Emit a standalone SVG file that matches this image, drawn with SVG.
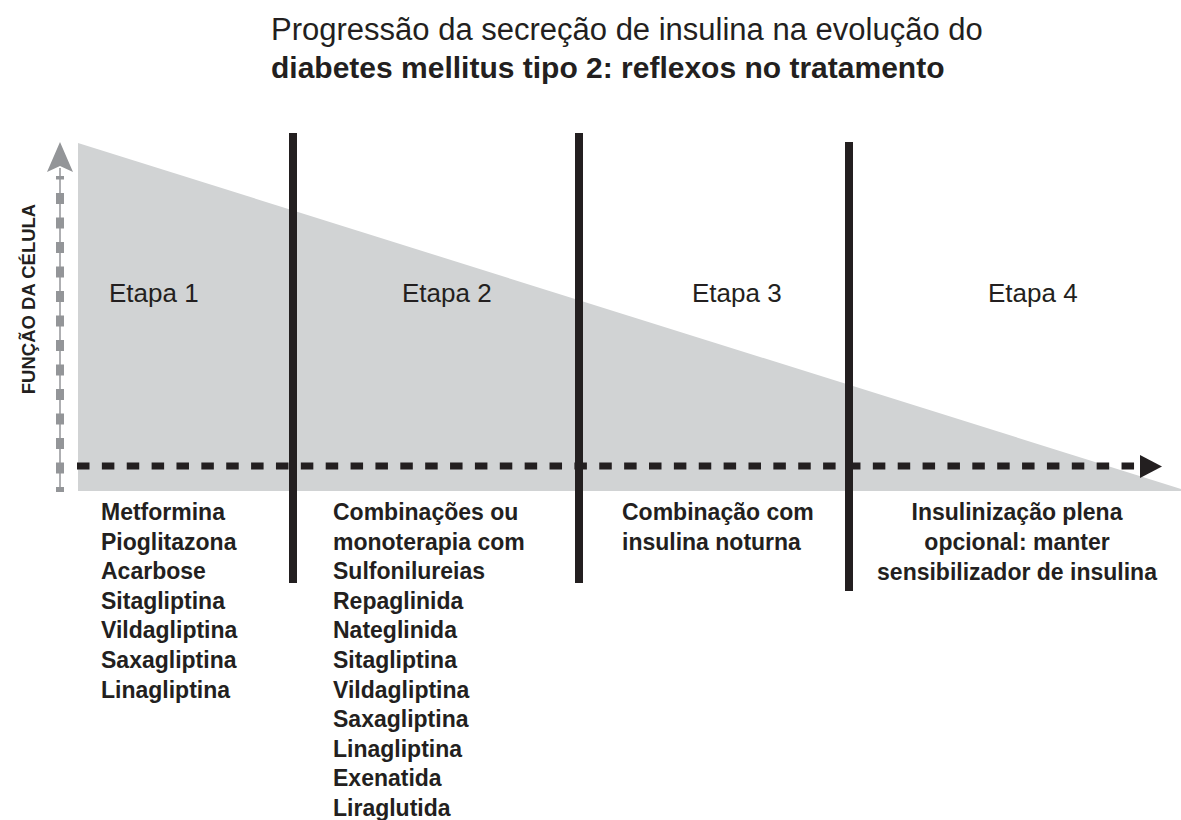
<svg xmlns="http://www.w3.org/2000/svg" width="1181" height="820" viewBox="0 0 1181 820">
<style>
text{font-family:"Liberation Sans",Arial,sans-serif;fill:#231f20}
.title{font-size:31px}
.title2{font-size:30px;font-weight:bold}
.etapa{font-size:26px}
.body{font-size:23px;font-weight:bold}
.ylab{font-size:18.5px;font-weight:bold}
.sep{stroke:#231f20;stroke-width:8;fill:none}
</style>
<rect width="1181" height="820" fill="#ffffff"/>
<g id="title">
<text class="title" x="271" y="40">Progressão da secreção de insulina na evolução do</text>
<text class="title2" x="271" y="78">diabetes mellitus tipo 2: reflexos no tratamento</text>
</g>
<g id="area">
<polygon points="78,143 1181,489 1181,491 78,491" fill="#d1d3d4"/>
</g>
<g id="connectors">
<line x1="60" y1="492" x2="60" y2="168" stroke="#939598" stroke-width="1.5"/>
<path d="M60 492 V176" stroke="#939598" stroke-width="8" stroke-dasharray="11 13.5" stroke-dashoffset="6" fill="none"/>
<polygon points="60,142 73,172 60,166 47,172" fill="#939598"/>
<path d="M77 466 H1136" stroke="#231f20" stroke-width="7" stroke-dasharray="12.5 12.37" fill="none"/>
<polygon points="1140,455 1162,466.5 1140,478" fill="#231f20"/>
<line class="sep" x1="293" y1="133" x2="293" y2="583"/>
<line class="sep" x1="579" y1="133" x2="579" y2="583"/>
<line class="sep" x1="849" y1="142" x2="849" y2="591"/>
</g>
<g id="axis-label">
<text class="ylab" transform="translate(35,299) rotate(-90)" text-anchor="middle">FUNÇÃO DA CÉLULA</text>
</g>
<g id="etapa1">
<text class="etapa" x="109" y="302">Etapa 1</text>
<text class="body" x="101" y="520">Metformina</text>
<text class="body" x="101" y="549.6">Pioglitazona</text>
<text class="body" x="101" y="579.2">Acarbose</text>
<text class="body" x="101" y="608.8">Sitagliptina</text>
<text class="body" x="101" y="638.4">Vildagliptina</text>
<text class="body" x="101" y="668">Saxagliptina</text>
<text class="body" x="101" y="697.6">Linagliptina</text>
</g>
<g id="etapa2">
<text class="etapa" x="402" y="302">Etapa 2</text>
<text class="body" x="333" y="520">Combinações ou</text>
<text class="body" x="333" y="549.6">monoterapia com</text>
<text class="body" x="333" y="579.2">Sulfonilureias</text>
<text class="body" x="333" y="608.8">Repaglinida</text>
<text class="body" x="333" y="638.4">Nateglinida</text>
<text class="body" x="333" y="668">Sitagliptina</text>
<text class="body" x="333" y="697.6">Vildagliptina</text>
<text class="body" x="333" y="727.2">Saxagliptina</text>
<text class="body" x="333" y="756.8">Linagliptina</text>
<text class="body" x="333" y="786.4">Exenatida</text>
<text class="body" x="333" y="816">Liraglutida</text>
</g>
<g id="etapa3">
<text class="etapa" x="692" y="302">Etapa 3</text>
<text class="body" x="622" y="520">Combinação com</text>
<text class="body" x="622" y="550">insulina noturna</text>
</g>
<g id="etapa4">
<text class="etapa" x="988" y="302">Etapa 4</text>
<text class="body" x="1017" y="520" text-anchor="middle">Insulinização plena</text>
<text class="body" x="1017" y="550" text-anchor="middle">opcional: manter</text>
<text class="body" x="1017" y="580" text-anchor="middle">sensibilizador de insulina</text>
</g>
</svg>
